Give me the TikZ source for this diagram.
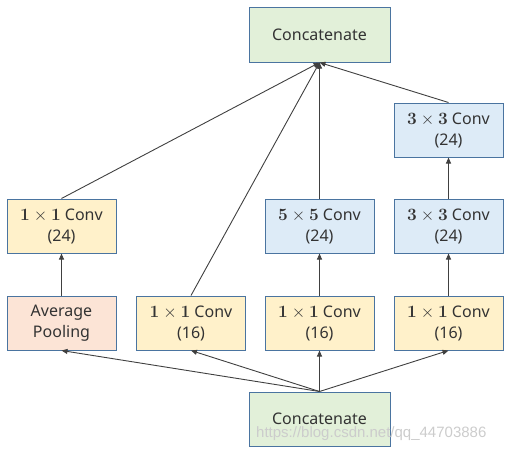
\documentclass[tikz,border=0pt]{standalone}
\usepackage[no-math]{fontspec}
\setmainfont{Noto Sans}
\newfontfamily\wmfont{Liberation Sans}
\usetikzlibrary{arrows.meta}
\definecolor{bordc}{HTML}{4A74A0}
\definecolor{yel}{HTML}{FFF1CA}
\definecolor{blu}{HTML}{DDEBF7}
\definecolor{pnk}{HTML}{FCE4D6}
\definecolor{grn}{HTML}{E2F0D9}
\definecolor{linec}{HTML}{404040}
\definecolor{txtc}{HTML}{333333}
\tikzset{
  box/.style={draw=bordc, line width=1pt, minimum width=109pt, minimum height=54pt, inner sep=0pt, align=center, text=txtc, font=\fontsize{16}{21}\selectfont},
  catbox/.style={box, fill=grn, minimum width=141pt},
  ybox/.style={box, fill=yel},
  bbox/.style={box, fill=blu},
  pbox/.style={box, fill=pnk},
  conn/.style={draw=linec, line width=0.9pt, -{Triangle[length=6pt,width=5pt]}}
}
\newcommand{\kk}[1]{$\mathbf{#1}\times\mathbf{#1}$}
\begin{document}
\begin{tikzpicture}[x=1pt,y=-1pt]
\useasboundingbox (0,0) rectangle (510,452);
\node[catbox] (top) at (319.5,35) {Concatenate};
\node[catbox] (bot) at (319.5,419) {Concatenate};
\node[ybox] (a2) at (61.5,226) {\kk{1} Conv\\(24)};
\node[pbox] (a1) at (61.5,323) {Average\\Pooling};
\node[ybox] (b1) at (191,323) {\kk{1} Conv\\(16)};
\node[bbox] (c2) at (319.5,226) {\kk{5} Conv\\(24)};
\node[ybox] (c1) at (319.5,323) {\kk{1} Conv\\(16)};
\node[bbox] (d3) at (448.5,130) {\kk{3} Conv\\(24)};
\node[bbox] (d2) at (448.5,226) {\kk{3} Conv\\(24)};
\node[ybox] (d1) at (448.5,323) {\kk{1} Conv\\(16)};
\coordinate (tin) at (top.south);
\draw[conn] (bot.north) -- (a1.south);
\draw[conn] (bot.north) -- (b1.south);
\draw[conn] (bot.north) -- (c1.south);
\draw[conn] (bot.north) -- (d1.south);
\draw[conn] (a1) -- (a2);
\draw[conn] (c1) -- (c2);
\draw[conn] (d1) -- (d2);
\draw[conn] (d2) -- (d3);
\draw[conn] (a2.north) -- (tin);
\draw[conn] (b1.north) -- (tin);
\draw[conn] (c2.north) -- (tin);
\draw[conn] (d3.north) -- (tin);
\node[text=black!20, font=\wmfont\fontsize{15}{18}\selectfont, anchor=west, inner sep=0pt] (wm) at (256,434) {https://blog.csdn.net/qq\_44703886};
\end{tikzpicture}
\end{document}
